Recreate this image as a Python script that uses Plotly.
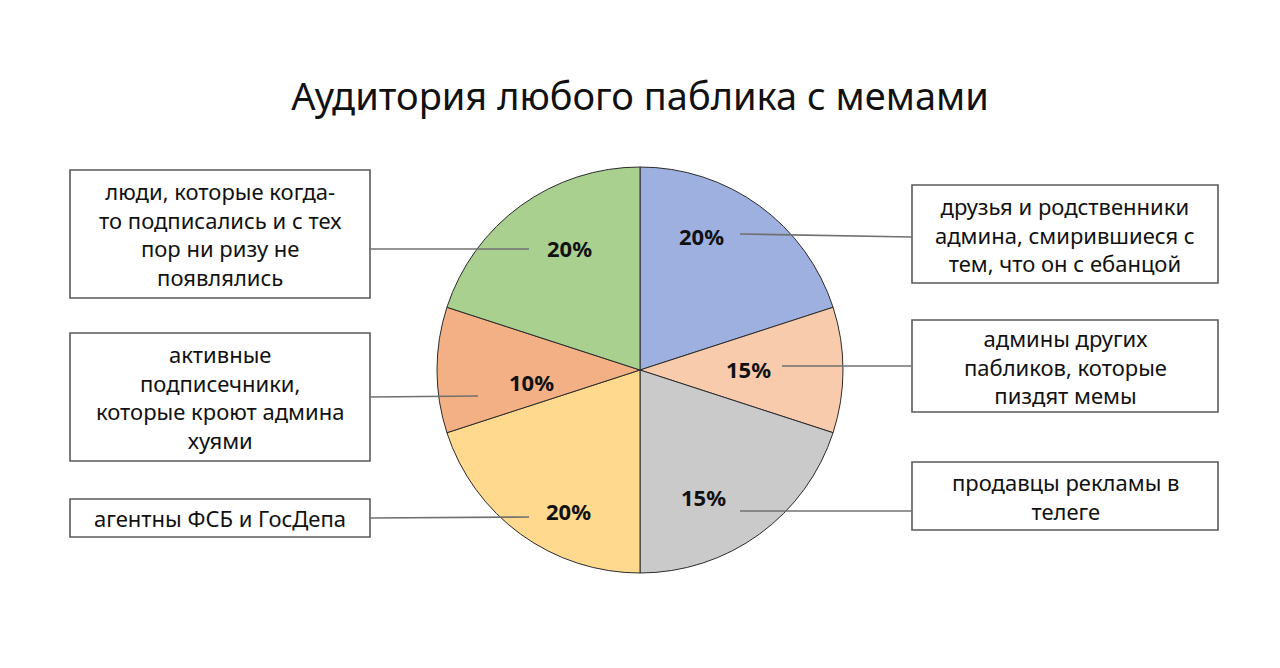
import plotly.graph_objects as go

# page body has an 8px margin; figure is sized to fit the 1280x668 window
OFF = 8
FW, FH = 1280 - 2 * OFF, 668 - 2 * OFF

title = "Аудитория любого паблика с мемами"
categories = [
    "друзья и родственники<br>админа, смирившиеся с<br>тем, что он с ебанцой",
    "админы других<br>пабликов, которые<br>пиздят мемы",
    "продавцы рекламы в<br>телеге",
    "агентны ФСБ и ГосДепа",
    "активные<br>подписечники,<br>которые кроют админа<br>хуями",
    "люди, которые когда-<br>то подписались и с тех<br>пор ни ризу не<br>появлялись",
]
# slice sizes as drawn in the picture
values = [20, 10, 20, 20, 10, 20]
# percentage labels as printed on the slices
pct_labels = ["20%", "15%", "15%", "20%", "10%", "20%"]
colors = ["#9DB0DF", "#F8CBAD", "#CACACA", "#FFD98D", "#F3B084", "#A9D08F"]

FONT = "Noto Sans"

def px(x):
    return (x - OFF) / FW

def py(y):
    return 1 - (y - OFF) / FH

cx, cy, R = 640, 370, 203

fig = go.Figure(go.Pie(
    labels=categories,
    values=values,
    sort=False,
    direction="clockwise",
    rotation=0,
    marker=dict(colors=colors, line=dict(color="#2b2b2b", width=1)),
    textinfo="none",
    domain=dict(x=[px(cx - R), px(cx + R)], y=[py(cy + R), py(cy - R)]),
    showlegend=False,
    hoverinfo="label",
))

# layout positions (screen pixels)
boxes = [
    (912, 185, 1218, 283),
    (912, 320, 1218, 412),
    (912, 462, 1218, 530),
    (70, 499, 370, 537),
    (70, 333, 370, 461),
    (70, 170, 370, 298),
]
pct_pos = [
    (701, 236),
    (748, 369),
    (703, 497),
    (568, 511),
    (531, 382),
    (569, 248),
]
connectors = [
    (740, 234, 912, 237),
    (782, 366, 912, 366),
    (740, 511, 912, 511),
    (529, 517, 370, 518),
    (478, 396, 370, 397),
    (529, 249, 370, 249),
]

shapes = []
annotations = []
for cat, lab, (x0, y0, x1, y1), (tx, ty), (a, b, c, d) in zip(
        categories, pct_labels, boxes, pct_pos, connectors):
    shapes.append(dict(type="rect", xref="paper", yref="paper",
                       x0=px(x0), x1=px(x1), y0=py(y1), y1=py(y0),
                       line=dict(color="#5a5a5a", width=1.6), fillcolor="white"))
    shapes.append(dict(type="line", xref="paper", yref="paper",
                       x0=px(a), y0=py(b), x1=px(c), y1=py(d),
                       line=dict(color="#707070", width=1.6)))
    annotations.append(dict(text=cat, xref="paper", yref="paper",
                            x=px((x0 + x1) / 2), y=py((y0 + y1) / 2),
                            xanchor="center", yanchor="middle", showarrow=False,
                            align="center",
                            font=dict(family=FONT, size=22, color="#111111")))
    annotations.append(dict(text=f"<b>{lab}</b>",
                            xref="paper", yref="paper",
                            x=px(tx), y=py(ty),
                            xanchor="center", yanchor="middle", showarrow=False,
                            font=dict(family=FONT, size=22, color="#111111")))

fig.update_layout(
    width=FW, height=FH,
    margin=dict(l=0, r=0, t=0, b=0),
    paper_bgcolor="white",
    plot_bgcolor="white",
    title=dict(text=title, x=0.5, xanchor="center", y=py(97), yanchor="middle",
               font=dict(family=FONT, size=38, color="#111111")),
    shapes=shapes,
    annotations=annotations,
)

fig.write_html("out.html")
